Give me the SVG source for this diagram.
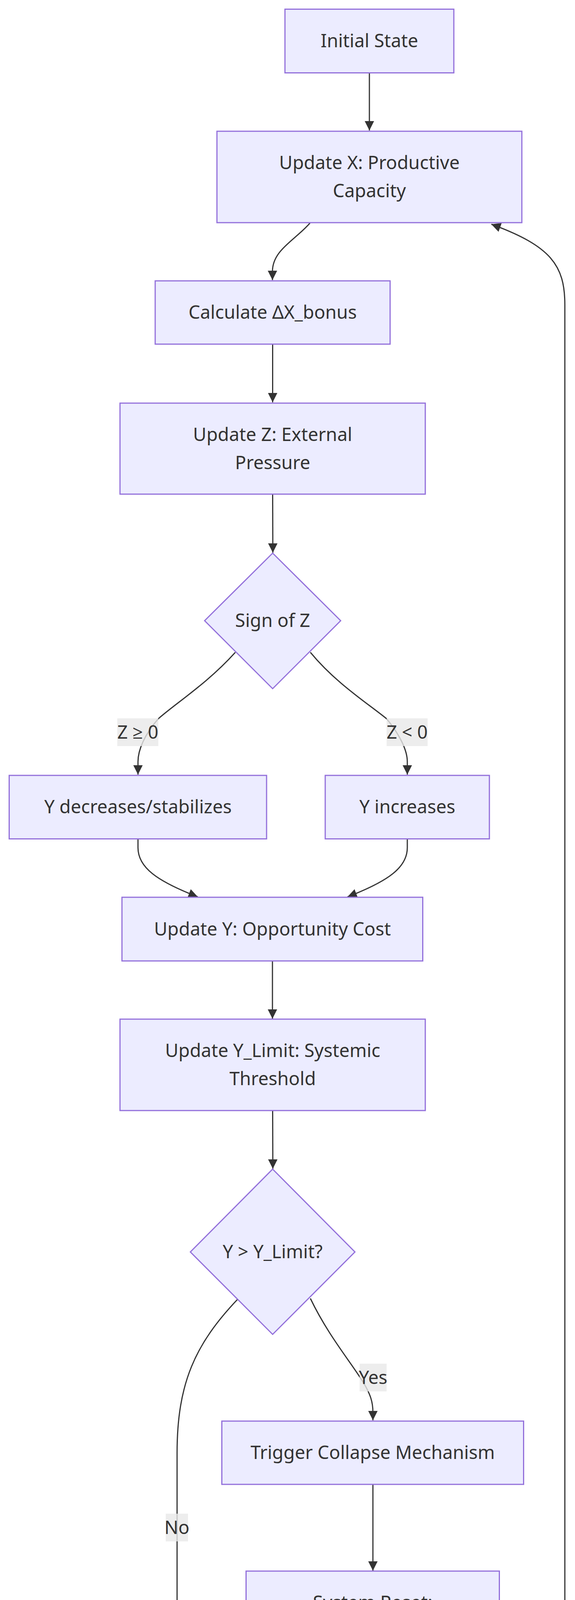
<svg xmlns="http://www.w3.org/2000/svg" width="1471" height="4736" viewBox="0 0 1471 4736">
<style>
.node rect, .node polygon { fill: #ECECFF; stroke: #9370DB; stroke-width: 3; }
.node text, .elabel text { font-family: "Noto Sans", "Open Sans", sans-serif; font-size: 47px; fill: #333333; text-anchor: middle; }
.edge { fill: none; stroke: #333333; stroke-width: 3; }
.elabel rect { fill: #e8e8e8; opacity: 0.8; }
</style>
<defs>
<marker id="arrow" viewBox="0 0 10 10" refX="10" refY="5" markerWidth="24" markerHeight="24" markerUnits="userSpaceOnUse" orient="auto">
<path d="M0,0 L10,5 L0,10 z" fill="#333333"/>
</marker>
</defs>
<rect x="0" y="0" width="1471" height="4736" fill="#ffffff"/>
<g id="connectors">
<path class="edge" marker-end="url(#arrow)" d="M945,187 L945,334"/>
<path class="edge" marker-end="url(#arrow)" d="M793,571 C755,615 697,640 697,695 L697,717"/>
<path class="edge" marker-end="url(#arrow)" d="M697.5,881 L697.5,1030"/>
<path class="edge" marker-end="url(#arrow)" d="M697.5,1265 L698,1415"/>
<path class="edge" marker-end="url(#arrow)" d="M602,1670 C530,1750 450,1800 405,1840 C370,1880 353,1920 353,1950 L353,1983"/>
<path class="edge" marker-end="url(#arrow)" d="M794,1670 C860,1750 940,1800 989,1840 C1022,1880 1042,1920 1042,1950 L1042,1983"/>
<path class="edge" marker-end="url(#arrow)" d="M353,2148 L353,2170 C353,2220 400,2255 506,2296"/>
<path class="edge" marker-end="url(#arrow)" d="M1042,2148 L1042,2170 C1042,2220 995,2255 889,2296"/>
<path class="edge" marker-end="url(#arrow)" d="M697,2460 L697,2608"/>
<path class="edge" marker-end="url(#arrow)" d="M697.5,2843 L698,2992"/>
<path class="edge" marker-end="url(#arrow)" d="M794,3324 C840,3420 900,3490 930,3540 C948,3570 954,3590 954,3615 L954,3636"/>
<path class="edge" marker-end="url(#arrow)" d="M954,3800 L954,4021"/>
<path class="edge" marker-end="url(#arrow)" d="M954,4400 L954,4549"/>
<path class="edge" marker-end="url(#arrow)" d="M608,3326 C500,3440 453,3540 453,3720 L453,4300 C453,4420 560,4500 736,4566"/>
<path class="edge" marker-end="url(#arrow)" d="M1169,4562 C1350,4500 1445,4420 1445,4300 L1445,780 C1445,680 1410,630 1257,574"/>
</g>
<g id="edge-labels">
<g class="elabel" id="label-zge0"><rect x="300" y="1839" width="105" height="71"/><text x="352.5" y="1891">Z ≥ 0</text></g>
<g class="elabel" id="label-zlt0"><rect x="989" y="1839" width="105" height="71"/><text x="1041.5" y="1891">Z &lt; 0</text></g>
<g class="elabel" id="label-yes"><rect x="920" y="3491" width="69" height="71"/><text x="954.5" y="3543">Yes</text></g>
<g class="elabel" id="label-no"><rect x="424" y="3875" width="57" height="71"/><text x="452.5" y="3927">No</text></g>
</g>
<g class="node" id="node-initial"><rect x="729" y="23.5" width="432" height="163"/><text x="945" y="121">Initial State</text></g>
<g class="node" id="node-updatex"><rect x="555" y="336" width="780" height="234"/><text x="945" y="433">Update X: Productive</text><text x="945" y="505">Capacity</text></g>
<g class="node" id="node-calc"><rect x="397" y="719" width="601" height="162"/><text x="697.5" y="816">Calculate ΔX_bonus</text></g>
<g class="node" id="node-updatez"><rect x="307" y="1032" width="781" height="233"/><text x="697.5" y="1129">Update Z: External</text><text x="697.5" y="1201">Pressure</text></g>
<g class="node" id="node-signz"><polygon points="697.5,1416 871.5,1589 697.5,1763 523.5,1589"/><text x="697.5" y="1605">Sign of Z</text></g>
<g class="node" id="node-ydec"><rect x="23.5" y="1985" width="658.5" height="162.5"/><text x="353" y="2082">Y decreases/stabilizes</text></g>
<g class="node" id="node-yinc"><rect x="832" y="1985" width="420" height="162.5"/><text x="1042" y="2082">Y increases</text></g>
<g class="node" id="node-updatey"><rect x="312" y="2297" width="769.5" height="163"/><text x="697" y="2395">Update Y: Opportunity Cost</text></g>
<g class="node" id="node-ylimit"><rect x="307" y="2609" width="781" height="234"/><text x="697.5" y="2706">Update Y_Limit: Systemic</text><text x="697.5" y="2778">Threshold</text></g>
<g class="node" id="node-decision"><polygon points="697.5,2993 908,3205 697.5,3416 487,3205"/><text x="697.5" y="3221">Y &gt; Y_Limit?</text></g>
<g class="node" id="node-trigger"><rect x="567.5" y="3638" width="772" height="162"/><text x="953.5" y="3735">Trigger Collapse Mechanism</text></g>
<g class="node" id="node-reset"><rect x="629.5" y="4022" width="648" height="378"/><text x="953.6" y="4119">System Reset:</text><text x="953.6" y="4191">- Partial X retention</text><text x="953.6" y="4263">- Y friction release</text><text x="953.6" y="4335">- Stress memory clear</text></g>
<g class="node" id="node-next"><rect x="739" y="4550" width="430" height="162"/><text x="954" y="4647">Next Period</text></g>
</svg>
